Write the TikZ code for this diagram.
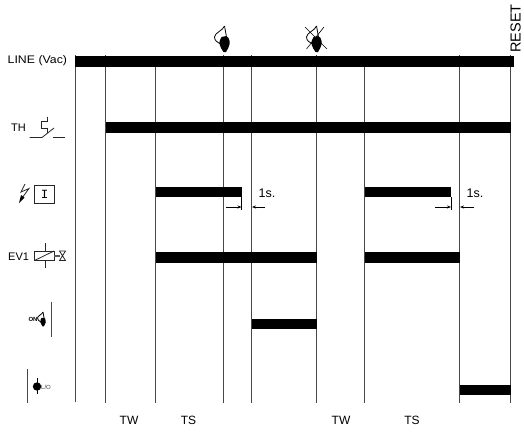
\documentclass[tikz,border=0pt]{standalone}
\usepackage{fontspec}
\setmainfont{Liberation Sans}
\setmonofont{Liberation Mono}
\usetikzlibrary{arrows.meta}
\tikzset{
 vline/.style={line width=1pt,black!72},
 bar/.style={fill=black,draw=none},
 lbl/.style={font=\fontsize{11}{12}\selectfont,inner sep=0pt},
 tlbl/.style={font=\fontsize{12}{13}\selectfont,inner sep=0pt},
 sym/.style={line width=0.8pt,black!85},
 dim/.style={line width=0.6pt,black,-{Stealth[length=4pt,width=3pt]}}
}
\newcommand{\flm}[3]{%
 \begin{scope}[shift={(#1,#2)},scale=#3]
  \draw[line width=0.8pt] (0,0) .. controls (-1,4) and (-10,7) .. (-10,11) .. controls (-10,15) and (-7,16) .. (-4,18);
  \draw[line width=0.8pt] (0,0) -- (2,11);
  \fill (-3,11) .. controls (-1,9.5) and (3,10) .. (4,12) .. controls (6,16) and (5.5,20) .. (1.5,26) -- (-1,26) .. controls (-4.5,21) and (-6,17) .. (-4.5,14) -- cycle;
 \end{scope}}
\begin{document}
\begin{tikzpicture}[x=1pt,y=-1pt]
\useasboundingbox (0,0) rectangle (524,431);
% vertical lines
\foreach \x/\a/\b in {75/55/402,105.5/55/403,155.5/66/403,223.5/55/403,251.5/55/403,316.5/55/403,364.5/66/403,459.5/55/403,510.5/55/403}
  \draw[vline] (\x,\a) -- (\x,\b);
% bars
\fill[bar] (75,55.5) rectangle (514,66.5);
\fill[bar] (105.5,122) rectangle (511,132.5);
\fill[bar] (155.5,186.5) rectangle (241.5,197);
\fill[bar] (364.5,186.5) rectangle (451,197);
\fill[bar] (155.5,252) rectangle (316.5,262.5);
\fill[bar] (364.5,252) rectangle (459.5,262.5);
\fill[bar] (251.5,319) rectangle (316.5,329);
\fill[bar] (459.5,384.5) rectangle (510.5,394.5);
% labels
\node[lbl,anchor=west,xscale=1.12] (line) at (7.5,60.5) {LINE (Vac)};
\node[lbl,anchor=west] (th) at (11,128) {TH};
\node[lbl,anchor=west] (ev) at (8,257) {EV1};
\node[inner sep=0pt,rotate=90,font=\fontsize{14.5}{16}\selectfont,anchor=west] (reset) at (515.5,53) {RESET};
\node[tlbl] (tw1) at (129,420) {TW};
\node[tlbl] (ts1) at (188.5,420) {TS};
\node[tlbl] (tw2) at (341,420) {TW};
\node[tlbl] (ts2) at (412,420) {TS};
\node[inner sep=0pt,font=\fontsize{12.5}{14}\selectfont] (s1) at (267,193) {1s.};
\node[inner sep=0pt,font=\fontsize{12.5}{14}\selectfont] (s2) at (475,193) {1s.};
% 1s dimension arrows
\draw[dim] (226,207) -- (241.5,207);
\draw[dim] (265,207) -- (252,207);
\draw[line width=0.8pt] (241.5,197) -- (241.5,210);
\draw[dim] (435,207) -- (451,207);
\draw[dim] (474,207) -- (460,207);
\draw[line width=0.8pt] (451,197) -- (451,210);
% TH symbol
\draw[sym] (29.5,137.5) -- (42,137.5) -- (54,128);
\draw[sym] (53,137.5) -- (65,137.5);
\draw[sym] (47,116.5) -- (47,121) -- (41,121) -- (41,128) -- (47,128) -- (47,133);
% flash + I
\draw[sym] (25,184) -- (21,192) -- (29,188.5) -- (22,198);
\fill (19,203) -- (24.5,197.5) -- (21,195) -- cycle;
\draw[sym] (34.5,185) rectangle (54,203);
\node[inner sep=0pt,font=\ttfamily\fontsize{12.5}{13}\selectfont] (i) at (44.5,194) {I};
% EV1 symbol
\draw[sym] (34.5,251) rectangle (54,260.5);
\draw[sym] (34.5,260.5) -- (54,251);
\draw[sym] (45,243) -- (45,251) (45,260.5) -- (45,268);
\draw[line width=1.8pt,black!65] (54,256) -- (60,256);
\draw[sym] (59.5,251) -- (65.5,251) -- (59.5,260.5) -- (65.5,260.5) -- cycle;
% lamp symbols
\flm{224.5}{26}{1}
\flm{316.5}{26}{1}
\draw[line width=0.6pt] (305,27) -- (327,49) (324,27) -- (306.5,49);
% ON symbol
\draw[vline] (51,302) -- (51,336.5);
\flm{43}{312}{0.55}
\node[inner sep=0pt,font=\bfseries\fontsize{6}{7}\selectfont] (on) at (33,319.5) {ON};
% LO symbol
\draw[vline] (27.5,369) -- (27.5,403);
\fill (37,386.5) circle (4.2pt);
\draw[line width=0.7pt] (37,378) -- (37,394);
\node[inner sep=0pt,font=\fontsize{6}{7}\selectfont,black!75] (lo) at (46,387) {L/O};
\end{tikzpicture}
\end{document}
